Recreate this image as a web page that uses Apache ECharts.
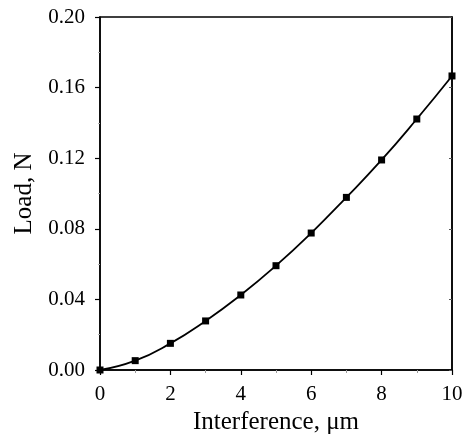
<!DOCTYPE html>
<html>
<head>
<meta charset="utf-8">
<script src="https://cdn.jsdelivr.net/npm/echarts@6/dist/echarts.min.js"></script>
<style>
  html, body { margin: 0; padding: 0; background: #fff; }
  #chart { width: 462px; height: 434px; }
</style>
</head>
<body>
<div id="chart"></div>
<script>
const interference = [0, 1, 2, 3, 4, 5, 6, 7, 8, 9, 10]
const load = [0.000, 0.0053, 0.0151, 0.0278, 0.0425, 0.0591, 0.0776, 0.0978, 0.119, 0.1422, 0.1666]

const font = 'Liberation Serif'
const textColor = '#000'

const chart = echarts.init(document.getElementById('chart'))

const option = {
  backgroundColor: '#fff',
  animation: false,
  grid: {
    left: 100,
    right: 10,
    top: 17,
    bottom: 64,
    containLabel: false,
    outerBoundsMode: 'none',
    show: true,
    borderColor: '#000',
    borderWidth: 1.5,
    backgroundColor: 'transparent'
  },
  xAxis: [
    {
      type: 'value',
      min: 0,
      max: 10,
      interval: 2,
      name: 'Interference, μm',
      nameLocation: 'middle',
      nameGap: 36,
      nameTextStyle: { color: textColor, fontFamily: font, fontSize: 25 },
      axisLine: { show: true, lineStyle: { color: '#000', width: 1.5 } },
      axisTick: { show: true, inside: false, length: 5, lineStyle: { color: '#000', width: 1.2 } },
      minorTick: { show: true, splitNumber: 2, length: 3, lineStyle: { color: '#999' } },
      axisLabel: { color: textColor, fontFamily: font, fontSize: 21, margin: 14 },
      splitLine: { show: false }
    }
  ],
  yAxis: [
    {
      type: 'value',
      min: 0,
      max: 0.2,
      interval: 0.04,
      name: 'Load, N',
      nameLocation: 'middle',
      nameGap: 63,
      nameTextStyle: { color: textColor, fontFamily: font, fontSize: 25 },
      axisLine: { show: true, lineStyle: { color: '#000', width: 1.5 } },
      axisTick: { show: true, inside: false, length: 5, lineStyle: { color: '#000', width: 1.2 } },
      minorTick: { show: true, splitNumber: 2, length: 2, lineStyle: { color: '#aaa' } },
      axisLabel: {
        color: textColor,
        fontFamily: font,
        fontSize: 21,
        margin: 15,
        formatter: v => v.toFixed(2)
      },
      splitLine: { show: false }
    },
    {
      type: 'value',
      position: 'right',
      min: 0,
      max: 0.2,
      interval: 0.04,
      axisLine: { show: true, lineStyle: { color: '#000', width: 1.5 } },
      axisTick: { show: true, inside: true, length: 3, lineStyle: { color: '#555' } },
      axisLabel: { show: false },
      splitLine: { show: false }
    }
  ],
  series: [
    {
      type: 'line',
      data: interference.map((x, i) => [x, load[i]]),
      smooth: true,
      symbol: 'rect',
      symbolSize: 7,
      lineStyle: { color: '#000', width: 1.8 },
      itemStyle: { color: '#000' },
      clip: false
    }
  ]
}

chart.setOption(option)
</script>
</body>
</html>
